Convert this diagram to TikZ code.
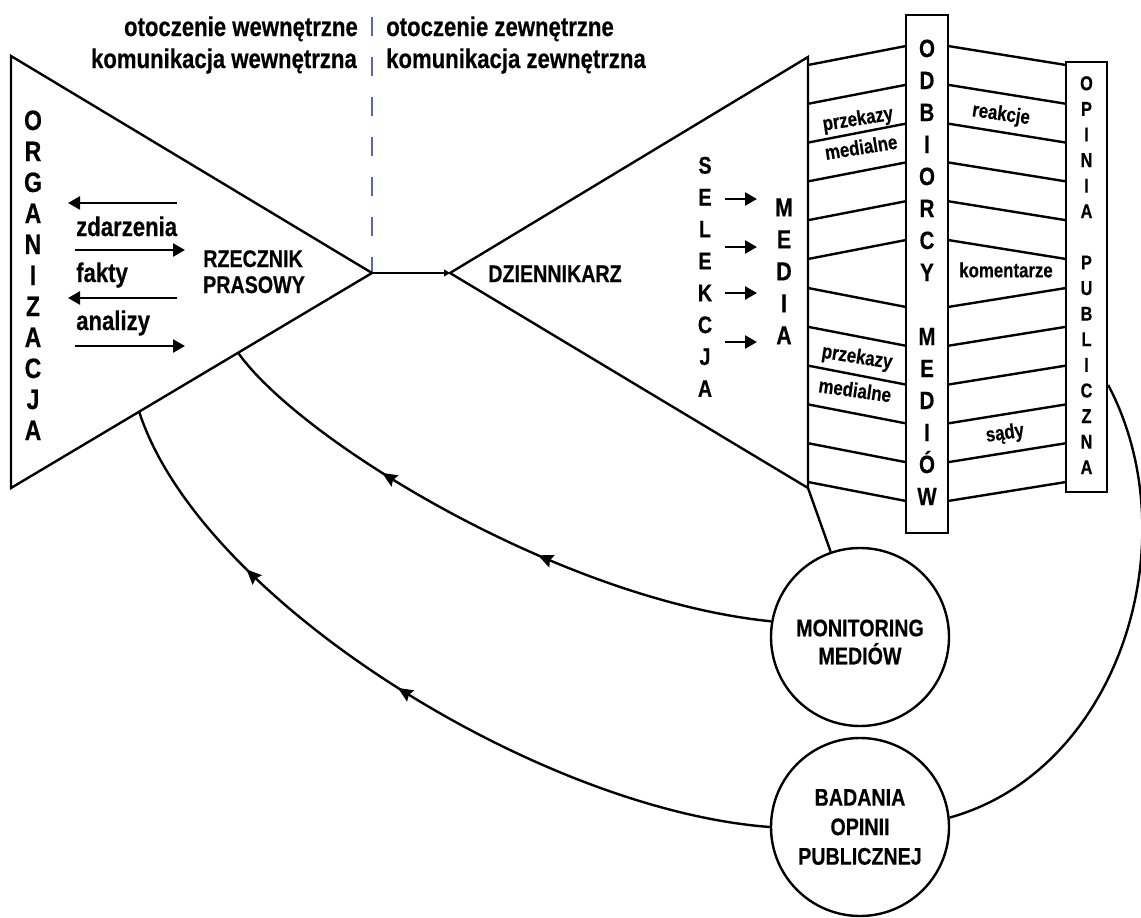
\documentclass[tikz,border=0pt]{standalone}
\usepackage{fontspec}
\setmainfont{Liberation Sans}[FakeStretch=0.82,BoldFeatures={FakeBold=0.4}]
\usetikzlibrary{arrows.meta,calc,decorations.markings}
\definecolor{dashblue}{RGB}{85,100,200}
\newcommand\fsz[1]{\fontsize{#1}{#1}\selectfont\bfseries}
\begin{document}
\begin{tikzpicture}[x=1pt,y=-1pt,line width=2.4pt,
  txt/.style={inner sep=0pt,font=\fsz{27}},
  lbl/.style={inner sep=0pt,font=\fsz{20.5}},
  ltr/.style={inner sep=0pt,anchor=base},
  arr/.style={-{Triangle[length=12pt,width=13pt]}},
  circ/.style={draw,circle,minimum size=178pt,inner sep=0pt},
  bar/.style={draw,inner sep=0pt},
  midarrows/.style 2 args={postaction={decorate},decoration={markings,
     mark=at position #1 with {\arrow{Stealth[length=15pt,width=13pt,inset=2pt]}},
     mark=at position #2 with {\arrow{Stealth[length=15pt,width=13pt,inset=2pt]}}}}
]
\useasboundingbox (0,0) rectangle (1141,918);

% main corner points
\coordinate (L1) at (11,56);
\coordinate (L2) at (11,488);
\coordinate (LA) at (372,273);
\coordinate (RA) at (450,273);
\coordinate (RT) at (808,57);
\coordinate (RB) at (808,488);

% boundary line and triangles
\draw[dashblue,line width=1.6pt,dash pattern=on 19pt off 21pt] (372,17) -- (LA);
\draw (L1) -- (L2) -- (LA) -- cycle;
\draw (RT) -- (RA) -- (RB) -- cycle;
\draw[line width=1.4pt,-{Triangle[length=6pt,width=7pt]}] (LA) -- (RA);

% top labels
\node[txt,anchor=base east] (ow) at (359,36) {otoczenie wewnętrzne};
\node[txt,anchor=base east] (kw) at (358,68) {komunikacja wewnętrzna};
\node[txt,anchor=base west] (oz) at (385,36) {otoczenie zewnętrzne};
\node[txt,anchor=base west] (kz) at (385,68) {komunikacja zewnętrzna};

% ORGANIZACJA
\foreach \ch [count=\i] in {O,R,G,A,N,I,Z,A,C,J,A}
  \node[ltr,font=\fsz{28}] (org\i) at (33,{130+31*(\i-1)}) {\ch};

% arrows inside organisation
\coordinate (a1s) at (177,203); \coordinate (a1e) at (68,203);
\coordinate (a2s) at (75,250);  \coordinate (a2e) at (185,250);
\coordinate (a3s) at (177,298); \coordinate (a3e) at (68,298);
\coordinate (a4s) at (75,346);  \coordinate (a4e) at (185,346);
\draw[arr] (a1s) -- (a1e);
\draw[arr] (a2s) -- (a2e);
\draw[arr] (a3s) -- (a3e);
\draw[arr] (a4s) -- (a4e);
\node[txt,anchor=base west] (zd) at (75,236) {zdarzenia};
\node[txt,anchor=base west] (fa) at (75,282) {fakty};
\node[txt,anchor=base west] (an) at (75,330) {analizy};

\node[ltr,font=\fsz{24}] (rz) at (253,267) {RZECZNIK};
\node[ltr,font=\fsz{24}] (pr) at (254,293) {PRASOWY};
\node[ltr,font=\fsz{24}] (dz) at (555,282) {DZIENNIKARZ};

% SELEKCJA -> MEDIA
\foreach \ch [count=\i] in {S,E,L,E,K,C,J,A}
  \node[ltr,font=\fsz{24}] (sel\i) at (705,{173.6+31.9*(\i-1)}) {\ch};
\foreach \ch [count=\i] in {M,E,D,I,A}
  \node[ltr,font=\fsz{26}] (med\i) at (784,{216.3+32*(\i-1)}) {\ch};
\foreach \y [count=\i] in {199,247,293,342}{
  \coordinate (sa\i) at (725,\y);
  \coordinate (sb\i) at (757,\y);
  \draw[arr] (sa\i) -- (sb\i);
}

% ODBIORCY MEDIOW bar
\node[bar,minimum width=42pt,minimum height=518pt] (odb) at (927,274) {};
\foreach \ch [count=\i] in {O,D,B,I,O,R,C,Y}
  \node[ltr,font=\fsz{25}] (odbl\i) at (927,{57+32*(\i-1)}) {\ch};
\foreach \ch [count=\i] in {M,E,D,I,Ó,W}
  \node[ltr,font=\fsz{25}] (medl\i) at (927,{57+32*(\i+8)}) {\ch};

% OPINIA PUBLICZNA bar
\node[bar,minimum width=41pt,minimum height=430pt] (op) at (1086.5,277) {};
\foreach \ch [count=\i] in {O,P,I,N,I,A}
  \node[ltr,font=\fsz{20}] (opl\i) at (1086.5,{90.2+25.6*(\i-1)}) {\ch};
\foreach \ch [count=\i] in {P,U,B,L,I,C,Z,N,A}
  \node[ltr,font=\fsz{20}] (pul\i) at (1086.5,{90.2+25.6*(\i+6)}) {\ch};

% hatch lines
\foreach \k in {0,...,5}{
  \draw ({808},{65+38.8*\k}) -- ({906},{46+38.8*\k});
  \draw ({808},{288+38.8*\k}) -- ({906},{307+38.8*\k});
  \draw ({948},{46+38.8*\k}) -- ({1066},{65+38.8*\k});
  \draw ({948},{307+38.8*\k}) -- ({1066},{288+38.8*\k});
}

% small labels
\node[lbl,rotate=9] (pz1) at (858,120) {przekazy};
\node[lbl,rotate=9] (md1) at (861,147) {medialne};
\node[lbl,rotate=-9] (pz2) at (857,358) {przekazy};
\node[lbl,rotate=-8] (md2) at (855,390) {medialne};
\node[lbl,rotate=-8] (re) at (1001,115) {reakcje};
\node[lbl] (ko) at (1006,270) {komentarze};
\node[lbl,rotate=8] (sa) at (1005,434) {sądy};

% circles
\node[circ] (mon) at (860,637) {};
\node[inner sep=0pt,align=center,font=\fontsize{24}{28}\selectfont\bfseries] (montxt) at (860,642) {MONITORING\\MEDIÓW};
\node[circ,align=center,font=\fontsize{24}{29.5}\selectfont\bfseries] (bad) at (860,827) {BADANIA\\OPINII\\PUBLICZNEJ};

% feedback connections
\coordinate (oM) at ($(LA)!0.371!(L2)$);
\coordinate (oB) at ($(LA)!0.645!(L2)$);
\draw[midarrows={0.40}{0.69}] (mon.170) .. controls (560,600) and (300,440) .. (oM);
\draw[midarrows={0.51}{0.755}] (bad.west) .. controls (540,810) and (200,600) .. (oB);
\draw (RB) -- (mon.109);
\draw ([yshift=-108pt]op.east) .. controls (1190,540) and (1120,770) .. (bad.6);
\end{tikzpicture}
\end{document}
